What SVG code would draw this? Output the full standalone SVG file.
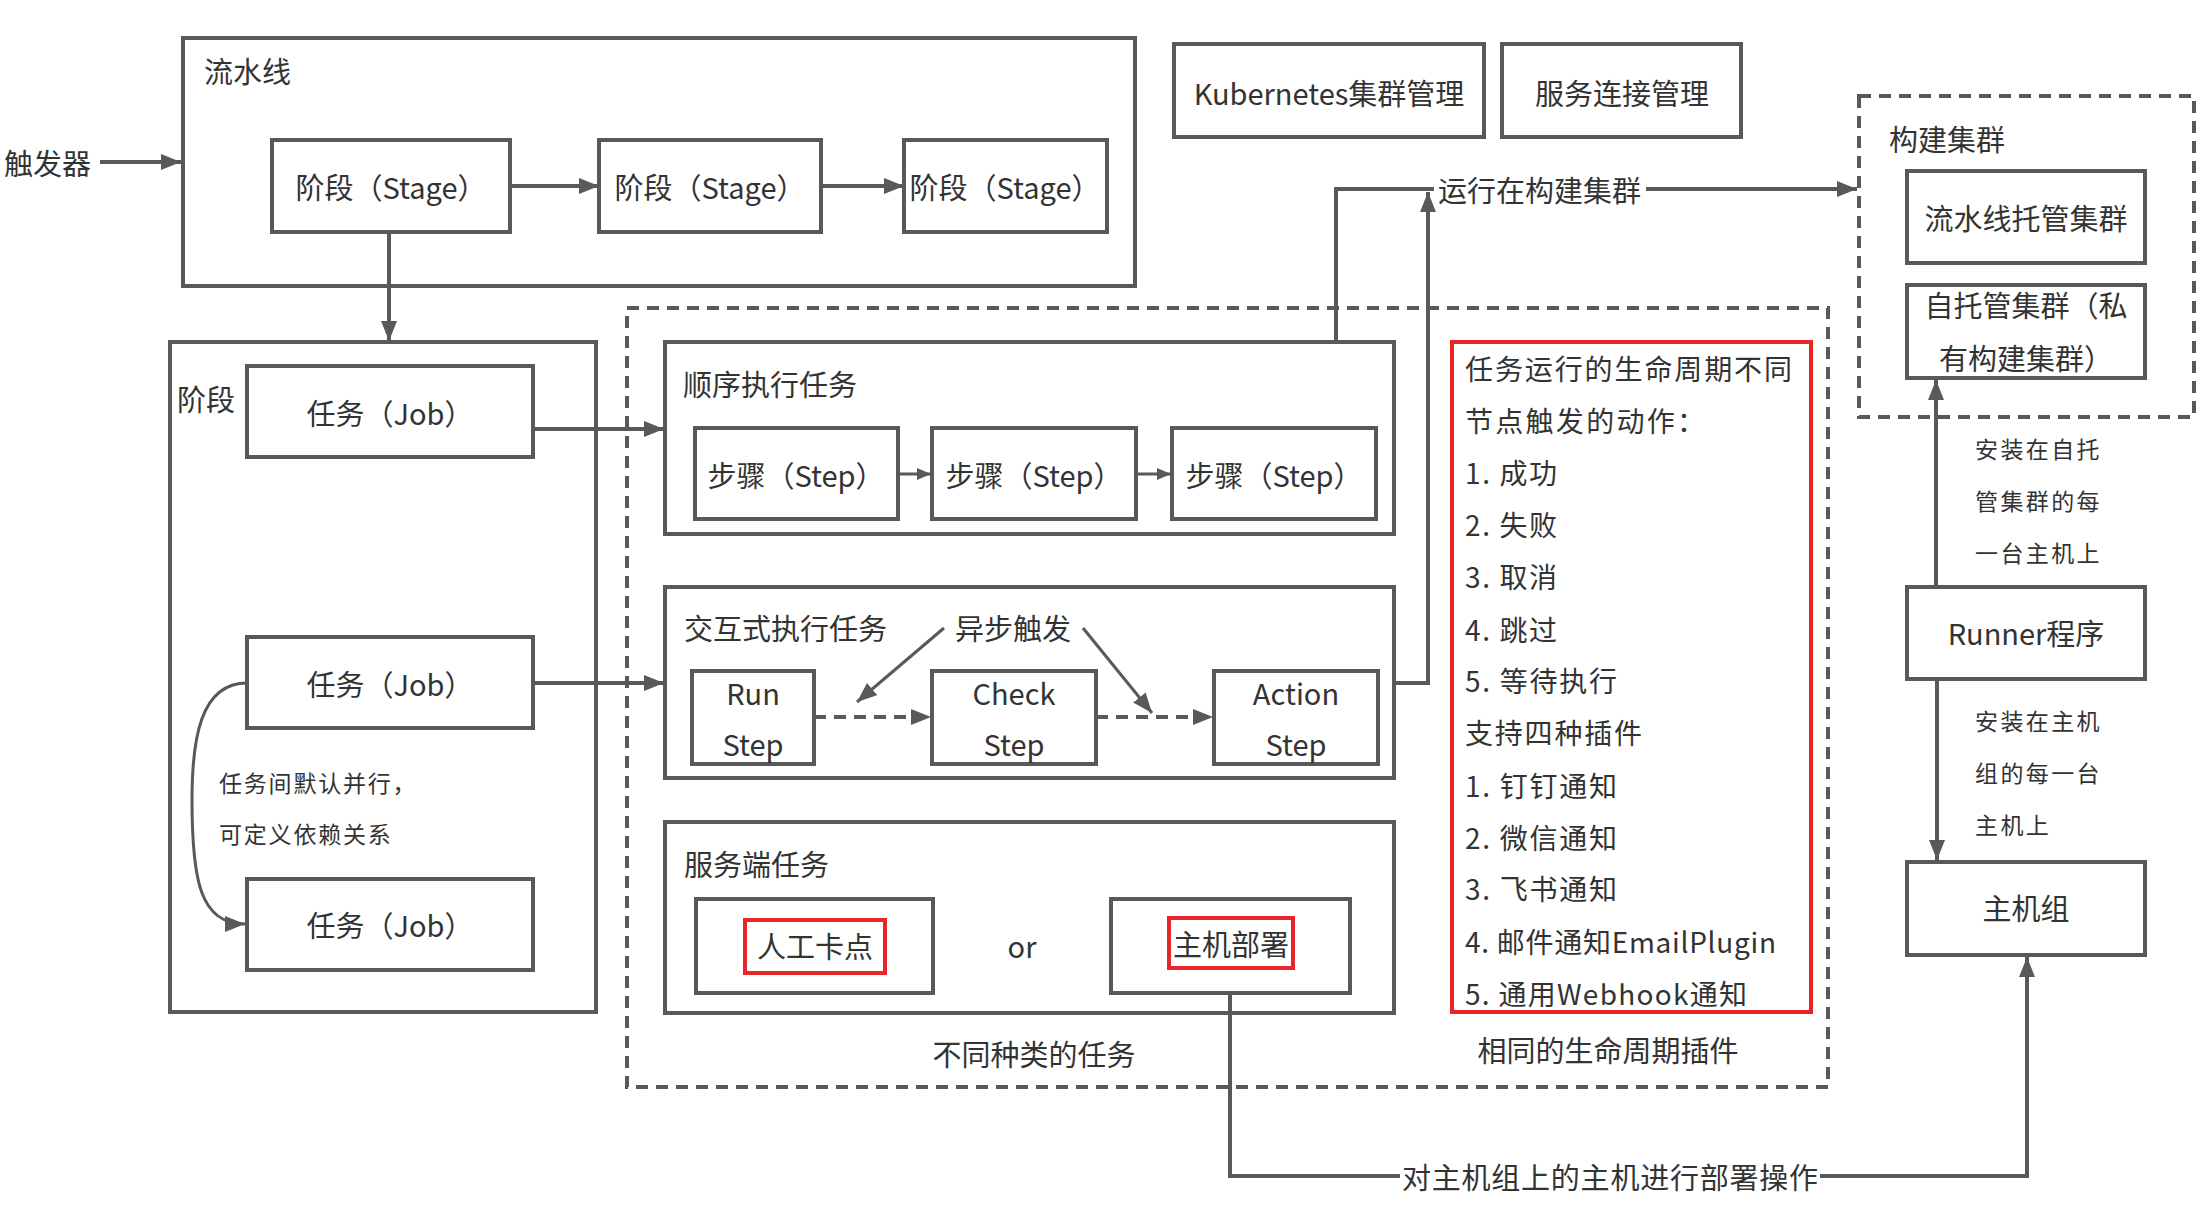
<svg xmlns="http://www.w3.org/2000/svg" width="2208" height="1219" viewBox="0 0 2208 1219">
<style>
.b{fill:none;stroke:#595959;stroke-width:4}
.d{fill:none;stroke:#595959;stroke-width:4;stroke-dasharray:12 8}
.r{fill:none;stroke:#e8262a;stroke-width:4}
.c{fill:none;stroke:#595959;stroke-width:4}
.t{stroke-width:3}
.ds{stroke-dasharray:12 8}
text{font-family:"Noto Sans CJK SC","Liberation Sans",sans-serif;font-size:29px;fill:#333;dominant-baseline:central}
.m{text-anchor:middle}
.l{font-size:28px}
.s{font-size:23px;letter-spacing:2.4px}
.n{font-size:23px;letter-spacing:1.8px}
</style>
<defs>
<marker id="a" viewBox="0 0 20 16" refX="20" refY="8" markerWidth="20" markerHeight="16" markerUnits="userSpaceOnUse" orient="auto"><path d="M0,0 L20,8 L0,16 z" fill="#595959"/></marker>
<marker id="as" viewBox="0 0 14 12" refX="14" refY="6" markerWidth="14" markerHeight="12" markerUnits="userSpaceOnUse" orient="auto"><path d="M0,0 L14,6 L0,12 z" fill="#595959"/></marker>
</defs>
<rect width="2208" height="1219" fill="#fff"/>

<g id="trigger"><text x="4" y="162">触发器</text></g>

<g id="pipeline">
<rect class="b" x="183" y="38" width="952" height="248"/>
<text x="204" y="70">流水线</text>
</g>
<g id="stage1"><rect class="b" x="272" y="140" width="238" height="92"/><text class="m" x="391" y="186">阶段（Stage）</text></g>
<g id="stage2"><rect class="b" x="599" y="140" width="222" height="92"/><text class="m" x="710" y="186">阶段（Stage）</text></g>
<g id="stage3"><rect class="b" x="904" y="140" width="203" height="92"/><text class="m" x="1005" y="186">阶段（Stage）</text></g>

<g id="k8s"><rect class="b" x="1174" y="44" width="310" height="93"/><text class="m" x="1329" y="92">Kubernetes集群管理</text></g>
<g id="svcconn"><rect class="b" x="1502" y="44" width="239" height="93"/><text class="m" x="1622" y="92">服务连接管理</text></g>

<g id="stage">
<rect class="b" x="170" y="342" width="426" height="670"/>
<text x="177" y="398">阶段</text>
</g>
<g id="job1"><rect class="b" x="247" y="366" width="286" height="91"/><text class="m" x="390" y="412">任务（Job）</text></g>
<g id="job2"><rect class="b" x="247" y="637" width="286" height="91"/><text class="m" x="390" y="683">任务（Job）</text></g>
<g id="job3"><rect class="b" x="247" y="879" width="286" height="91"/><text class="m" x="390" y="924">任务（Job）</text></g>
<g id="jobnote"><text class="n" x="219" y="782">任务间默认并行，</text><text class="n" x="219" y="833">可定义依赖关系</text></g>

<g id="jobtypes">
<rect class="d" x="627" y="308" width="1201" height="779"/>
<text class="m" x="1034" y="1053">不同种类的任务</text>
</g>

<g id="seq">
<rect class="b" x="665" y="342" width="729" height="192"/>
<text x="683" y="383">顺序执行任务</text>
</g>
<g id="step1"><rect class="b" x="695" y="428" width="203" height="91"/><text class="m" x="796" y="474">步骤（Step）</text></g>
<g id="step2"><rect class="b" x="932" y="428" width="204" height="91"/><text class="m" x="1034" y="474">步骤（Step）</text></g>
<g id="step3"><rect class="b" x="1172" y="428" width="204" height="91"/><text class="m" x="1274" y="474">步骤（Step）</text></g>

<g id="interactive">
<rect class="b" x="665" y="587" width="729" height="191"/>
<text x="684" y="627">交互式执行任务</text>
<text x="955" y="627">异步触发</text>
</g>
<g id="runstep"><rect class="b" x="692" y="671" width="122" height="93"/><text class="m" x="753" y="692">Run</text><text class="m" x="753" y="743">Step</text></g>
<g id="checkstep"><rect class="b" x="932" y="671" width="164" height="93"/><text class="m" x="1014" y="692">Check</text><text class="m" x="1014" y="743">Step</text></g>
<g id="actionstep"><rect class="b" x="1214" y="671" width="164" height="93"/><text class="m" x="1296" y="692">Action</text><text class="m" x="1296" y="743">Step</text></g>

<g id="server">
<rect class="b" x="665" y="822" width="729" height="191"/>
<text x="684" y="863">服务端任务</text>
<text class="m" x="1022" y="945">or</text>
</g>
<g id="manual"><rect class="b" x="696" y="899" width="237" height="94"/><rect class="r" x="745" y="920" width="140" height="53"/><text class="m" x="815" y="945">人工卡点</text></g>
<g id="hostdeploy"><rect class="b" x="1111" y="899" width="239" height="94"/><rect class="r" x="1169" y="918" width="124" height="50"/><text class="m" x="1231" y="943">主机部署</text></g>

<g id="lifecycle">
<rect class="r" x="1452" y="342" width="359" height="670"/>
<text class="l" x="1465" y="368" textLength="327" lengthAdjust="spacing">任务运行的生命周期不同</text>
<text class="l" x="1465" y="420" textLength="240" lengthAdjust="spacing">节点触发的动作：</text>
<text class="l" x="1465" y="472" textLength="92" lengthAdjust="spacing">1. 成功</text>
<text class="l" x="1465" y="524" textLength="92" lengthAdjust="spacing">2. 失败</text>
<text class="l" x="1465" y="576" textLength="92" lengthAdjust="spacing">3. 取消</text>
<text class="l" x="1465" y="629" textLength="92" lengthAdjust="spacing">4. 跳过</text>
<text class="l" x="1465" y="680" textLength="152" lengthAdjust="spacing">5. 等待执行</text>
<text class="l" x="1465" y="732" textLength="177" lengthAdjust="spacing">支持四种插件</text>
<text class="l" x="1465" y="785" textLength="152" lengthAdjust="spacing">1. 钉钉通知</text>
<text class="l" x="1465" y="837" textLength="152" lengthAdjust="spacing">2. 微信通知</text>
<text class="l" x="1465" y="888" textLength="152" lengthAdjust="spacing">3. 飞书通知</text>
<text class="l" x="1465" y="941" textLength="311" lengthAdjust="spacing">4. 邮件通知EmailPlugin</text>
<text class="l" x="1465" y="993" textLength="282" lengthAdjust="spacing">5. 通用Webhook通知</text>
<text class="m" x="1608" y="1049">相同的生命周期插件</text>
</g>

<g id="buildcluster">
<rect class="d" x="1859" y="96" width="335" height="321"/>
<text x="1889" y="138">构建集群</text>
</g>
<g id="hosted"><rect class="b" x="1907" y="171" width="238" height="92"/><text class="m" x="2026" y="217">流水线托管集群</text></g>
<g id="selfhosted"><rect class="b" x="1907" y="285" width="238" height="93"/><text class="m" x="2026" y="304">自托管集群（私</text><text class="m" x="2026" y="357">有构建集群）</text></g>
<g id="runner"><rect class="b" x="1907" y="587" width="238" height="92"/><text class="m" x="2026" y="632">Runner程序</text></g>
<g id="hostgroup"><rect class="b" x="1907" y="862" width="238" height="93"/><text class="m" x="2026" y="907">主机组</text></g>

<g id="connectors">
<path class="c" d="M100 162 L181 162" marker-end="url(#a)"/>
<path class="c" d="M510 186 L599 186" marker-end="url(#a)"/>
<path class="c" d="M821 186 L904 186" marker-end="url(#a)"/>
<path class="c" d="M389 232 L389 341" marker-end="url(#a)"/>
<path class="c" d="M533 429 L664 429" marker-end="url(#a)"/>
<path class="c" d="M533 683 L664 683" marker-end="url(#a)"/>
<path class="c t" d="M247 683 C200 683 192 740 192 800 C192 880 200 924 245 924" marker-end="url(#a)"/>
<path class="c t" d="M898 474 L931 474" marker-end="url(#as)"/>
<path class="c t" d="M1136 474 L1171 474" marker-end="url(#as)"/>
<path class="c ds" d="M814 717 L931 717" marker-end="url(#a)"/>
<path class="c ds" d="M1096 717 L1213 717" marker-end="url(#a)"/>
<path class="c t" d="M944 628 L857 702" marker-end="url(#a)"/>
<path class="c t" d="M1083 628 L1152 713" marker-end="url(#a)"/>
<path class="c" d="M1336 342 L1336 189 L1434 189"/>
<path class="c" d="M1394 683 L1428 683 L1428 192" marker-end="url(#a)"/>
<text x="1438" y="189">运行在构建集群</text>
<path class="c" d="M1646 189 L1857 189" marker-end="url(#a)"/>
<path class="c" d="M1936 587 L1936 380" marker-end="url(#a)"/>
<text class="s" x="1975" y="448">安装在自托</text>
<text class="s" x="1975" y="500">管集群的每</text>
<text class="s" x="1975" y="552">一台主机上</text>
<path class="c" d="M1937 679 L1937 860" marker-end="url(#a)"/>
<text class="s" x="1975" y="720">安装在主机</text>
<text class="s" x="1975" y="772">组的每一台</text>
<text class="s" x="1975" y="824">主机上</text>
<path class="c" d="M1230 993 L1230 1176 L1400 1176"/>
<path class="c" d="M1820 1176 L2027 1176 L2027 957" marker-end="url(#a)"/>
<text x="1402" y="1176" textLength="416" lengthAdjust="spacing">对主机组上的主机进行部署操作</text>
</g>
</svg>
